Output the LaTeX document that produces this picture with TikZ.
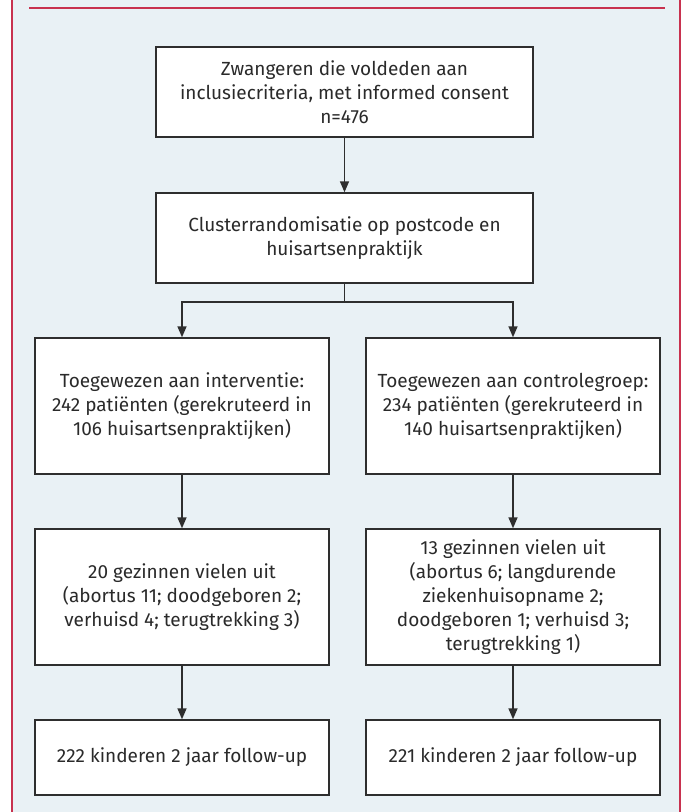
\documentclass[tikz,border=0pt]{standalone}
\usepackage{fontspec}
\setmainfont{Fira Sans}
\usetikzlibrary{arrows.meta}
\definecolor{bgc}{HTML}{E9F1F5}
\definecolor{redc}{HTML}{C8324F}
\definecolor{linec}{HTML}{2E2E2E}
\definecolor{textc}{HTML}{2A2A2A}
\begin{document}
\begin{tikzpicture}[x=1pt,y=-1pt,
  box/.style={draw=linec, line width=1.4pt, fill=white, align=center, inner sep=0pt,
    font=\fontsize{19}{24}\selectfont, text=textc},
  arr/.style={-{Triangle[length=11pt,width=9pt]}, line width=1.4pt, draw=linec},
  conn/.style={line width=1.4pt, draw=linec}]
\useasboundingbox (0,0) rectangle (681,812);
\fill[bgc] (11,0) rectangle (681,812);
\draw[redc, line width=2pt] (12,0) -- (12,812);
\draw[redc, line width=2pt] (680,0) -- (680,812);
\draw[redc, line width=2pt] (29,8) -- (665,8);

\node[box, minimum width=377pt, minimum height=90pt] (n1) at (344.5,92)
  {Zwangeren die voldeden aan\\inclusiecriteria, met informed consent\\n=476};
\node[box, minimum width=377pt, minimum height=90pt] (n2) at (344.5,238)
  {Clusterrandomisatie op postcode en\\huisartsenpraktijk};
\node[box, minimum width=294pt, minimum height=136pt] (l1) at (182,406)
  {Toegewezen aan interventie:\\242 patiënten (gerekruteerd in\\106 huisartsenpraktijken)};
\node[box, minimum width=294pt, minimum height=136pt] (r1) at (513,406)
  {Toegewezen aan controlegroep:\\234 patiënten (gerekruteerd in\\140 huisartsenpraktijken)};
\node[box, minimum width=294pt, minimum height=136pt] (l2) at (182,597)
  {20 gezinnen vielen uit\\(abortus 11; doodgeboren 2;\\verhuisd 4; terugtrekking 3)};
\node[box, minimum width=294pt, minimum height=136pt] (r2) at (513,597)
  {13 gezinnen vielen uit\\(abortus 6; langdurende\\ziekenhuisopname 2;\\doodgeboren 1; verhuisd 3;\\terugtrekking 1)};
\node[box, minimum width=294pt, minimum height=75pt] (l3) at (182,757.5)
  {222 kinderen 2 jaar follow-up};
\node[box, minimum width=294pt, minimum height=75pt] (r3) at (513,757.5)
  {221 kinderen 2 jaar follow-up};

\coordinate (j) at (344.5,302);
\draw[arr] (n1.south) -- (n2.north);
\draw[conn] (n2.south) -- (j);
\draw[arr] (j) -| (l1.north);
\draw[arr] (j) -| (r1.north);
\draw[arr] (l1.south) -- (l2.north);
\draw[arr] (r1.south) -- (r2.north);
\draw[arr] (l2.south) -- (l3.north);
\draw[arr] (r2.south) -- (r3.north);
\end{tikzpicture}
\end{document}
